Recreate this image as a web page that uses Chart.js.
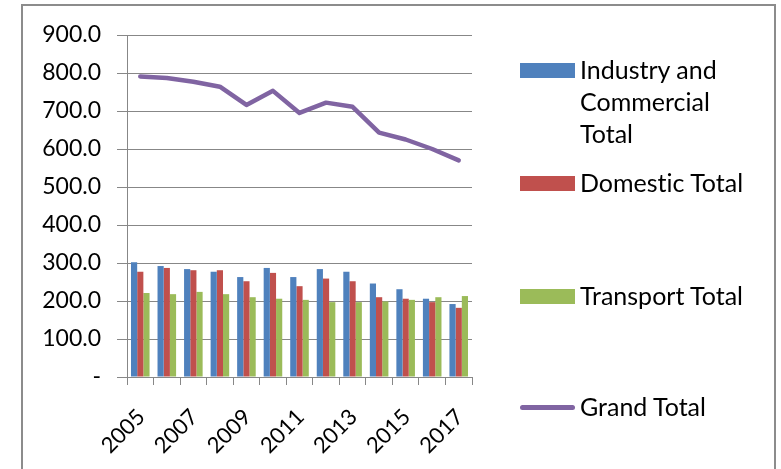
<!DOCTYPE html>
<html lang="en">
<head>
    <meta charset="UTF-8">
    <title>Totals 2005-2017</title>
    <script src="https://cdn.jsdelivr.net/npm/chart.js"></script>
    <style>
        html, body {
            margin: 0;
            padding: 0;
            background-color: #ffffff;
        }

        body {
            position: relative;
            width: 781px;
            height: 469px;
            overflow: hidden;
            font-family: 'Lato', 'Liberation Sans', sans-serif;
        }

        .frame {
            position: absolute;
            left: 21px;
            top: 4px;
            width: 755px;
            height: 520px;
            border: 2px solid #8c8c8c;
            box-sizing: border-box;
        }

        #chart {
            position: absolute;
            left: 0;
            top: 0;
        }

        .legend-swatch {
            position: absolute;
            left: 520px;
            width: 55px;
        }

        .legend-text {
            position: absolute;
            left: 580px;
            white-space: nowrap;
            font-size: 25px;
            line-height: 32px;
            color: #000000;
            font-variant-ligatures: none;
        }

        .legend-text.wrap {
            white-space: normal;
            width: 150px;
        }
    </style>
</head>

<body>
    <div class="frame"></div>
    <canvas id="chart" width="781" height="469"></canvas>
    <div id="legend"></div>

    <script>
        // data
        const years = ['2005', '2006', '2007', '2008', '2009', '2010', '2011', '2012', '2013', '2014', '2015', '2016', '2017'];
        const industry = [302, 292, 284, 277, 263, 287, 263, 284, 277, 246, 231, 206, 192];
        const domestic = [277, 287, 281, 281, 252, 274, 239, 259, 252, 210, 206, 197, 182];
        const transport = [221, 218, 224, 218, 210, 206, 203, 197, 197, 199, 203, 210, 213];
        const grandTotal = [791, 787, 777, 764, 716, 753, 695, 722, 711, 643, 625, 600, 570];

        const seriesNames = ['Industry and Commercial Total', 'Domestic Total', 'Transport Total', 'Grand Total'];
        const seriesColors = ['#4F81BD', '#C0504D', '#9BBB59', '#8064A2'];

        const gridColor = '#878787';
        const fontFamily = "'Lato', 'Liberation Sans', sans-serif";

        // legend (Excel style, uneven spacing)
        const legendCenters = [70, 183, 296, 407];
        const legend = document.getElementById('legend');
        seriesNames.forEach((name, i) => {
            const isLine = i === 3;
            const sw = document.createElement('div');
            sw.className = 'legend-swatch';
            const h = isLine ? 5 : 15;
            sw.style.top = (legendCenters[i] - h / 2) + 'px';
            sw.style.height = h + 'px';
            sw.style.background = seriesColors[i];
            if (isLine) sw.style.borderRadius = '3px';
            legend.appendChild(sw);

            const tx = document.createElement('div');
            tx.className = i === 0 ? 'legend-text wrap' : 'legend-text';
            tx.style.top = (legendCenters[i] - 17) + 'px';
            tx.textContent = name;
            legend.appendChild(tx);
        });

        new Chart(document.getElementById('chart').getContext('2d'), {
            type: 'bar',
            data: {
                labels: years,
                datasets: [
                    { label: seriesNames[0], data: industry, backgroundColor: seriesColors[0], order: 2 },
                    { label: seriesNames[1], data: domestic, backgroundColor: seriesColors[1], order: 2 },
                    { label: seriesNames[2], data: transport, backgroundColor: seriesColors[2], order: 2 },
                    {
                        type: 'line',
                        label: seriesNames[3],
                        data: grandTotal,
                        borderColor: seriesColors[3],
                        backgroundColor: seriesColors[3],
                        borderWidth: 4.5,
                        pointRadius: 0,
                        tension: 0,
                        borderCapStyle: 'round',
                        borderJoinStyle: 'round',
                        order: 1
                    }
                ]
            },
            options: {
                responsive: false,
                animation: false,
                categoryPercentage: 0.7,
                barPercentage: 1.0,
                layout: {
                    padding: { top: 35, right: 309, left: 0, bottom: 0 }
                },
                plugins: {
                    legend: { display: false },
                    tooltip: { enabled: false }
                },
                scales: {
                    x: {
                        grid: {
                            drawOnChartArea: false,
                            drawTicks: true,
                            tickLength: 8,
                            color: gridColor,
                            offset: true
                        },
                        border: { color: gridColor },
                        ticks: {
                            autoSkip: false,
                            minRotation: 45,
                            maxRotation: 45,
                            padding: 19,
                            labelOffset: 1,
                            color: '#000000',
                            font: { family: fontFamily, size: 22 },
                            callback: (v, i) => (i % 2 === 0 ? years[i] : '')
                        },
                        afterFit: (s) => { s.height = 92; }
                    },
                    y: {
                        min: 0,
                        max: 900,
                        grid: {
                            color: gridColor,
                            tickLength: 10
                        },
                        border: { color: gridColor },
                        ticks: {
                            stepSize: 100,
                            padding: 16,
                            color: '#000000',
                            font: { family: fontFamily, size: 23 },
                            callback: (v) => (v === 0 ? '-' : v.toFixed(1))
                        },
                        afterFit: (s) => { s.width = 127; }
                    }
                }
            }
        });
    </script>
</body>

</html>
